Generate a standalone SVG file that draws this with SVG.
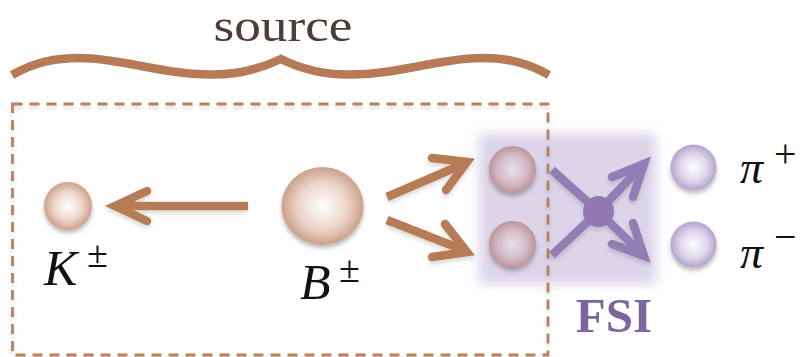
<svg xmlns="http://www.w3.org/2000/svg" width="804" height="357" viewBox="0 0 804 357">
<style>
.brown{fill:none;stroke:#b67b56;stroke-width:8.5;stroke-linecap:round;stroke-linejoin:miter;stroke-miterlimit:10}
.purple{fill:none;stroke:#927db5;stroke-width:8.5;stroke-linecap:round;stroke-linejoin:miter;stroke-miterlimit:10}
.math{font-family:"Liberation Serif","DejaVu Serif",serif;font-style:italic;fill:#111}
.sup{font-family:"Liberation Serif","DejaVu Serif",serif;fill:#111}
</style>
<defs>
<radialGradient id="gB" cx="0.5" cy="0.5" r="0.55">
<stop offset="0" stop-color="#ffffff"/>
<stop offset="0.55" stop-color="#ebd5c8"/>
<stop offset="1" stop-color="#c6927a"/>
</radialGradient>
<radialGradient id="gM" cx="0.5" cy="0.5" r="0.55">
<stop offset="0" stop-color="#e9e0ee"/>
<stop offset="0.55" stop-color="#d3bcc6"/>
<stop offset="1" stop-color="#b48b8f"/>
</radialGradient>
<radialGradient id="gP" cx="0.5" cy="0.5" r="0.55">
<stop offset="0" stop-color="#ffffff"/>
<stop offset="0.55" stop-color="#ddd5ea"/>
<stop offset="1" stop-color="#a797c4"/>
</radialGradient>
<filter id="sh" x="-30%" y="-30%" width="160%" height="170%">
<feDropShadow dx="0" dy="3" stdDeviation="2" flood-color="#000" flood-opacity="0.28"/>
</filter>
<filter id="shl" x="-5%" y="-5%" width="110%" height="115%">
<feDropShadow dx="0" dy="3" stdDeviation="2" flood-color="#000" flood-opacity="0.15"/>
</filter>
<filter id="blur" x="-20%" y="-20%" width="140%" height="140%">
<feGaussianBlur stdDeviation="6"/>
</filter>
</defs>
<rect width="804" height="357" fill="#ffffff"/>

<g id="fsi-box">
<rect x="479" y="134" width="177" height="150" fill="#dcd4e9" filter="url(#blur)"/>
</g>

<g id="source">
<text x="283" y="41" text-anchor="middle" font-family="'Liberation Serif','DejaVu Serif',serif" font-size="46" textLength="139" lengthAdjust="spacingAndGlyphs" fill="#4d3d36">source</text>
<path d="M12,75 C35,62 55,58 80,58 C120,58 160,74 210,74.5 C240,75 262,68 281,59 C299,68 321,75 351,74.5 C401,74 441,58 481,58 C506,58 526,62 549,75" fill="none" stroke="#b67b56" stroke-width="8.5" stroke-linejoin="miter" stroke-miterlimit="10"/>
<rect x="12.5" y="104" width="535.5" height="251" fill="none" stroke="#b88060" stroke-width="2.8" stroke-dasharray="10,7" filter="url(#shl)"/>
</g>

<g id="connectors" filter="url(#shl)">
<path class="brown" d="M248,206 L121,206" style="stroke-linecap:butt"/>
<path class="brown" d="M147,191 L115,206 L147,221"/>
<path class="brown" d="M387,197 L461,165" style="stroke-linecap:butt"/>
<path class="brown" d="M432,158 L467,162 L446,190"/>
<path class="brown" d="M387,220 L461,249" style="stroke-linecap:butt"/>
<path class="brown" d="M445,224 L467,252 L432,257"/>
<path class="purple" d="M552,170 L598.5,211.5 L552,255" style="stroke-linecap:butt"/>
<path class="purple" d="M598.5,211.5 L640,168" style="stroke-linecap:butt"/>
<path class="purple" d="M612,177 L644,164 L633,197"/>
<path class="purple" d="M598.5,211.5 L640,252" style="stroke-linecap:butt"/>
<path class="purple" d="M612,244 L644,256 L633,223"/>
<circle cx="598.5" cy="211.5" r="15.5" fill="#8f79b0"/>
</g>

<g id="K">
<circle cx="68" cy="206" r="24" fill="url(#gB)" filter="url(#sh)"/>
<text class="math" x="44" y="285" font-size="50">K</text>
<text class="sup" x="87" y="267" font-size="38">±</text>
</g>

<g id="B">
<ellipse cx="322.5" cy="206" rx="41" ry="39" fill="url(#gB)" filter="url(#sh)"/>
<text class="math" x="300" y="299" font-size="50">B</text>
<text class="sup" x="339" y="282" font-size="38">±</text>
</g>

<g id="inter1">
<circle cx="512.5" cy="169.5" r="23.5" fill="url(#gM)" filter="url(#sh)"/>
</g>
<g id="inter2">
<circle cx="512.5" cy="244.5" r="23.5" fill="url(#gM)" filter="url(#sh)"/>
</g>

<g id="FSI">
<text x="614" y="332" text-anchor="middle" font-family="'Liberation Serif','DejaVu Serif',serif" font-weight="bold" font-size="49" fill="#7d65a0">FSI</text>
</g>

<g id="piplus">
<circle cx="693.5" cy="167.5" r="23" fill="url(#gP)" filter="url(#sh)"/>
<text class="math" x="740" y="183" font-size="46">π</text>
<text class="sup" x="774" y="167" font-size="40">+</text>
</g>
<g id="piminus">
<circle cx="693.5" cy="244.5" r="23" fill="url(#gP)" filter="url(#sh)"/>
<text class="math" x="740" y="268" font-size="46">π</text>
<text class="sup" x="774" y="250" font-size="40">−</text>
</g>
</svg>
